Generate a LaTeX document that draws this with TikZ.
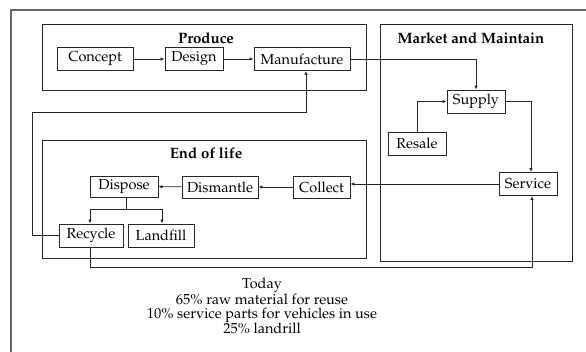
\documentclass[tikz,border=0pt]{standalone}
\usepackage[T1]{fontenc}
\usepackage{mathpazo}
\usetikzlibrary{arrows.meta}
\begin{document}
\begin{tikzpicture}[x=1pt,y=-1pt,
  box/.style={draw=black!85,line width=0.9pt,inner sep=1pt,minimum height=23pt,font=\fontsize{14.5}{14}\selectfont},
  group/.style={draw=black!85,line width=0.9pt,inner sep=0pt},
  title/.style={font=\fontsize{15}{14}\selectfont\bfseries},
  arr/.style={draw=black!85,line width=0.9pt,-{Latex[length=4pt,width=3.5pt]}},
  frame/.style={draw=black!60,line width=1.2pt}]
\useasboundingbox (0,0) rectangle (586,352);
\draw[frame] (11,352) -- (11,10) -- (586,10);
% groups
\node[group,minimum width=324pt,minimum height=66pt] (produce) at (204,57) {};
\node[group,minimum width=192pt,minimum height=237pt] (market) at (476,142.5) {};
\node[group,minimum width=324pt,minimum height=118pt] (eol) at (204,199) {};
\node[title] (tp) at (206,38) {Produce};
\node[title] (tm) at (471,38) {Market and Maintain};
\node[title] (te) at (206,153) {End of life};
% nodes
\node[box,minimum width=76pt] (concept) at (95,59) {Concept};
\node[box,minimum width=58pt] (design) at (194,59) {Design};
\node[box,minimum width=96pt] (manuf) at (302,59) {Manufacture};
\node[box,minimum width=58pt] (supply) at (476,101.5) {Supply};
\node[box,minimum width=58pt] (resale) at (417,143.5) {Resale};
\node[box,minimum width=58pt] (service) at (528,184) {Service};
\node[box,minimum width=68pt,minimum height=21pt] (dispose) at (124,186.5) {Dispose};
\node[box,minimum width=76pt,minimum height=22pt] (dismantle) at (220,187) {Dismantle};
\node[box,minimum width=57pt,minimum height=22pt] (collect) at (321.5,187) {Collect};
\node[box,minimum width=64pt] (recycle) at (91,235.5) {Recycle};
\node[box,minimum width=66pt] (landfill) at (161,235.5) {Landfill};
% connectors
\draw[arr] (concept) -- (design);
\draw[arr] (design) -- (manuf);
\draw[arr] (manuf.east) -| (supply.north);
\draw[arr] (resale.north) |- (supply.west);
\draw[arr] (supply.east) -| ([xshift=3pt]service.north);
\draw[arr] (service.west) -- (collect.east |- service.west);
\draw[arr] (collect) -- (dismantle);
\draw[arr] (dismantle) -- (dispose);
\draw[draw=black!85,line width=0.9pt] ([xshift=2pt]dispose.south) -- ++(0,12) coordinate (split);
\draw[arr] (split) -| ([xshift=-1pt]recycle.north);
\draw[arr] (split) -| ([xshift=1pt]landfill.north);
\draw[arr] (recycle.west) -| (32,112) -| ([xshift=4pt]manuf.south);
\draw[arr] ([xshift=-1pt]recycle.south) -- ++(0,20) -| ([xshift=4pt]service.south);
% notes
\node[align=center,font=\fontsize{14.5}{14}\selectfont,inner sep=0pt] (notes) at (262,306) {Today\\65\% raw material for reuse\\10\% service parts for vehicles in use\\25\% landrill};
\end{tikzpicture}
\end{document}
